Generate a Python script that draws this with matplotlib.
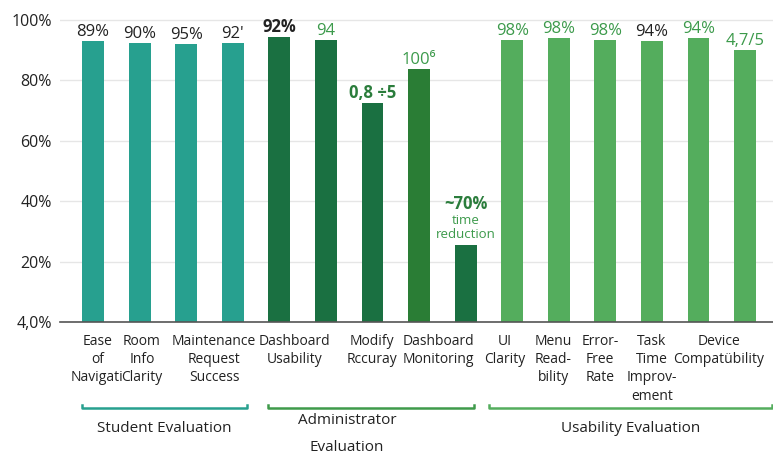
import matplotlib
matplotlib.use("Agg")
import matplotlib.pyplot as plt
from matplotlib.transforms import blended_transform_factory
import numpy as np

plt.rcParams["font.family"] = ["Open Sans", "Noto Sans", "DejaVu Sans"]

# --------------------------------------------------------------------------------------
values = [93, 92.4, 92, 92.4, 94.4, 93.4, 72.5, 83.8, 25.5, 93.4, 94, 93.4, 93, 94, 90]
value_labels = [
    "89%", "90%", "95%", "92'", "92%", "94", "0,8 ÷5", "100⁶", "~70%",
    "98%", "98%", "98%", "94%", "94%", "4,7/5",
]
tick_labels = [
    "Ease\nof\nNavigati", "Room\nInfo\nClarity", "Maintenance\nRequest\nSuccess",
    "Dashboard\nUsability", "Modify\nRccuray", "Dashboard\nMonitoring",
    "UI\nClarity", "Menu\nRead-\nbility", "Error-\nFree\nRate", "Task\nTime\nImprov-\nement",
    "Device\nCompatübility",
]
groups = ["Student Evaluation", "Administrator\nEvaluation", "Usability Evaluation"]
y_ticks = [0, 20, 40, 60, 80, 100]
y_tick_labels = ["4,0%", "20%", "40%", "60%", "80%", "100%"]

# --------------------------------------------------------------------------------------
TEAL = "#27a08f"
DARK = "#1a7041"
MID = "#2a7d35"
LIGHT = "#54ad5d"
BLACK = "#222222"
GREEN_TXT = "#3c9a4b"
DGREEN_TXT = "#2b7d3c"
bar_colors = [TEAL] * 4 + [DARK, DARK, DARK, MID, DARK] + [LIGHT] * 6
label_colors = [BLACK, BLACK, BLACK, BLACK, BLACK, GREEN_TXT, DGREEN_TXT, GREEN_TXT, DGREEN_TXT,
                GREEN_TXT, GREEN_TXT, GREEN_TXT, BLACK, GREEN_TXT, GREEN_TXT]
label_bold = [False, False, False, False, True, False, True, False, True,
              False, False, False, False, False, False]
tick_pos = [0.09, 1.05, 2.6, 4.32, 5.99, 7.41, 8.83, 9.88, 10.89, 12.0, 13.44]
bracket_spans = [(-0.24, 3.3), (3.76, 8.18), (8.5, 14.58)]
group_text_x = [None, 5.45, None]
group_colors = [TEAL, "#3f9a4a", LIGHT]

fig = plt.figure(figsize=(7.73, 4.58), dpi=100)
ax = fig.add_axes([60 / 773, 136 / 458, 713 / 773, 317 / 458])

xs = np.arange(len(values))
ax.bar(xs, values, width=0.47, color=bar_colors, zorder=3)
ax.set_xlim(-0.71, 14.6)
ax.set_ylim(0, 105)

ax.set_yticks(y_ticks)
ax.set_yticklabels(y_tick_labels, fontsize=11.5, color=BLACK)
ax.set_xticks(tick_pos)
ax.set_xticklabels(tick_labels, fontsize=10, color=BLACK, linespacing=1.3)
ax.tick_params(axis="both", length=0)
ax.tick_params(axis="x", pad=8.5)
ax.tick_params(axis="y", pad=6)
ax.grid(axis="y", color="#e6e6e6", linewidth=1, zorder=0)
for s in ["top", "right", "left"]:
    ax.spines[s].set_visible(False)
ax.spines["bottom"].set_color("#555555")
ax.spines["bottom"].set_linewidth(1.2)
ax.spines["bottom"].set_zorder(4)

for x, v, lab, c, b in zip(xs, values, value_labels, label_colors, label_bold):
    off = 23 if lab == "~70%" else 1
    ax.annotate(lab, (x, v), xytext=(0, off), textcoords="offset points",
                ha="center", va="bottom", fontsize=12, color=c,
                fontweight="bold" if b else "normal")
ax.annotate("time\nreduction", (8, values[8]), xytext=(0, 3), textcoords="offset points",
            ha="center", va="bottom", fontsize=9.5, color=GREEN_TXT, linespacing=1.1)

trans = blended_transform_factory(ax.transData, ax.transAxes)
for (x0, x1), name, c, tx in zip(bracket_spans, groups, group_colors, group_text_x):
    ax.plot([x0, x0, x1, x1], [-0.262, -0.272, -0.272, -0.262], color=c, linewidth=1.8,
            transform=trans, clip_on=False)
    if tx is None:
        tx = (x0 + x1) / 2
    y = -0.335 if "\n" not in name else -0.353
    ax.text(tx, y, name, transform=trans, ha="center", va="center",
            fontsize=11, color=BLACK, linespacing=2.1)

fig.savefig("out.png", dpi=100, facecolor="white")
